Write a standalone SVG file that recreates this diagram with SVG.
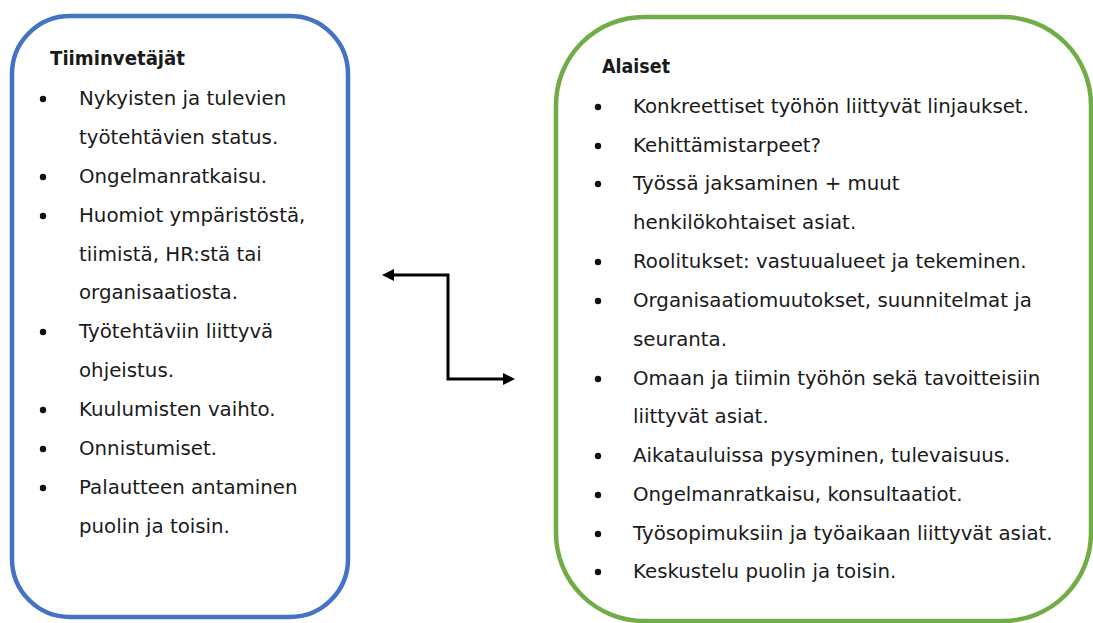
<svg xmlns="http://www.w3.org/2000/svg" width="1093" height="623" viewBox="0 0 1093 623">
  <style>
    .box { fill: #ffffff; stroke-width: 4.5; }
    .lead { stroke: #4472C4; }
    .team { stroke: #70AD47; }
    text { font-family: "DejaVu Sans", "Liberation Sans", sans-serif; font-size: 19.8px; fill: #1a1a1a; }
    .title { font-family: "DejaVu Sans Condensed", "DejaVu Sans", sans-serif; font-weight: bold; font-size: 19.5px; }
    .dot { fill: #111111; }
    .link { fill: none; stroke: #000000; stroke-width: 3; }
  </style>
  <defs>
    <marker id="head" viewBox="0 0 12 12" refX="2" refY="6" markerWidth="12" markerHeight="12" markerUnits="userSpaceOnUse" orient="auto-start-reverse">
      <path d="M0,0 L12,6 L0,12 Z" fill="#000000"/>
    </marker>
  </defs>
  <rect width="1093" height="623" fill="#ffffff"/>

  <!-- team leaders column -->
  <g id="tiiminvetajat">
    <rect class="box lead" x="12" y="16" width="336" height="601" rx="58" ry="58"/>
    <text class="title" x="50" y="65" textLength="135" lengthAdjust="spacingAndGlyphs">Tiiminvetäjät</text>
    <circle class="dot" cx="43" cy="99" r="3.2"/>
    <text x="79" y="105">Nykyisten ja tulevien</text>
    <text x="79" y="144">työtehtävien status.</text>
    <circle class="dot" cx="43" cy="177" r="3.2"/>
    <text x="79" y="183">Ongelmanratkaisu.</text>
    <circle class="dot" cx="43" cy="216" r="3.2"/>
    <text x="79" y="222">Huomiot ympäristöstä,</text>
    <text x="79" y="261">tiimistä, HR:stä tai</text>
    <text x="79" y="299">organisaatiosta.</text>
    <circle class="dot" cx="43" cy="332" r="3.2"/>
    <text x="79" y="338">Työtehtäviin liittyvä</text>
    <text x="79" y="377">ohjeistus.</text>
    <circle class="dot" cx="43" cy="410" r="3.2"/>
    <text x="79" y="416">Kuulumisten vaihto.</text>
    <circle class="dot" cx="43" cy="449" r="3.2"/>
    <text x="79" y="455">Onnistumiset.</text>
    <circle class="dot" cx="43" cy="488" r="3.2"/>
    <text x="79" y="494">Palautteen antaminen</text>
    <text x="79" y="533">puolin ja toisin.</text>
  </g>

  <!-- subordinates column -->
  <g id="alaiset">
    <rect class="box team" x="556" y="17" width="535" height="604" rx="88" ry="88"/>
    <text class="title" x="602" y="73" textLength="68" lengthAdjust="spacingAndGlyphs">Alaiset</text>
    <circle class="dot" cx="598" cy="107" r="3.2"/>
    <text x="633" y="113">Konkreettiset työhön liittyvät linjaukset.</text>
    <circle class="dot" cx="598" cy="146" r="3.2"/>
    <text x="633" y="152">Kehittämistarpeet?</text>
    <circle class="dot" cx="598" cy="184" r="3.2"/>
    <text x="633" y="190">Työssä jaksaminen + muut</text>
    <text x="633" y="229">henkilökohtaiset asiat.</text>
    <circle class="dot" cx="598" cy="262" r="3.2"/>
    <text x="633" y="268">Roolitukset: vastuualueet ja tekeminen.</text>
    <circle class="dot" cx="598" cy="301" r="3.2"/>
    <text x="633" y="307">Organisaatiomuutokset, suunnitelmat ja</text>
    <text x="633" y="346">seuranta.</text>
    <circle class="dot" cx="598" cy="379" r="3.2"/>
    <text x="633" y="385">Omaan ja tiimin työhön sekä tavoitteisiin</text>
    <text x="633" y="423">liittyvät asiat.</text>
    <circle class="dot" cx="598" cy="456" r="3.2"/>
    <text x="633" y="462">Aikatauluissa pysyminen, tulevaisuus.</text>
    <circle class="dot" cx="598" cy="495" r="3.2"/>
    <text x="633" y="501">Ongelmanratkaisu, konsultaatiot.</text>
    <circle class="dot" cx="598" cy="534" r="3.2"/>
    <text x="633" y="540">Työsopimuksiin ja työaikaan liittyvät asiat.</text>
    <circle class="dot" cx="598" cy="572" r="3.2"/>
    <text x="633" y="578">Keskustelu puolin ja toisin.</text>
  </g>

  <!-- two-way elbow connector between the columns -->
  <g id="connectors">
    <path class="link" d="M392,275 H448 V379 H505" marker-start="url(#head)" marker-end="url(#head)"/>
  </g>
</svg>
